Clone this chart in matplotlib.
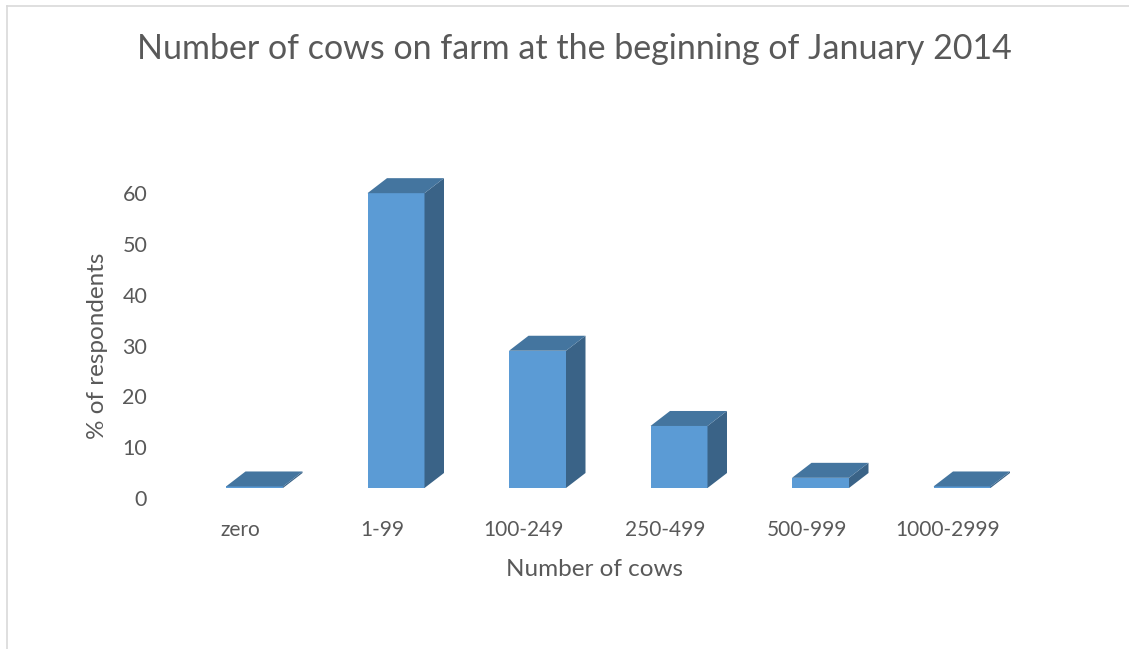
import matplotlib
matplotlib.use("Agg")
import matplotlib.pyplot as plt
from matplotlib.patches import Polygon
from matplotlib.lines import Line2D

categories = ["zero", "1-99", "100-249", "250-499", "500-999", "1000-2999"]
values = [0.3, 58, 27, 12.2, 2.0, 0.3]
yticks = [0, 10, 20, 30, 40, 50, 60]

title = "Number of cows on farm at the beginning of January 2014"
xlabel = "Number of cows"
ylabel = "% of respondents"

W, H = 1129, 649
DPI = 100
plt.rcParams['font.family'] = ['Lato', 'DejaVu Sans']
TXT = '#595959'
FRONT = '#5B9BD5'
TOP = '#44759F'
SIDE = '#3A6387'

fig = plt.figure(figsize=(W / DPI, H / DPI), dpi=DPI)
fig.patch.set_facecolor('white')

# axes placement in pixels
ax_l, ax_r = 150, 1050
ax_t, ax_b = 170, 520
ax = fig.add_axes([ax_l / W, 1 - ax_b / H, (ax_r - ax_l) / W, (ax_b - ax_t) / H])

px_per_cat = 141.5
first_center = 254.5
px_per_unit = (498 - 193) / 60.0
zero_px = 498
xlim = (-(first_center - ax_l) / px_per_cat, (ax_r - first_center) / px_per_cat)
ylim = (-(ax_b - zero_px) / px_per_unit, (zero_px - ax_t) / px_per_unit)
ax.set_xlim(*xlim)
ax.set_ylim(*ylim)

bar_w = 57 / px_per_cat
dx = 19.5 / px_per_cat
dy = 15 / px_per_unit
base = 10 / px_per_unit  # floor of the 3D bars sits above the 0 label

xs = list(range(len(categories)))
ax.bar(xs, values, width=bar_w, bottom=base, color=FRONT, edgecolor='none', zorder=3, clip_on=False)
for x, v in zip(xs, values):
    x0, x1 = x - bar_w / 2, x + bar_w / 2
    y0, y1 = base, base + v
    top = Polygon([(x0, y1), (x1, y1), (x1 + dx, y1 + dy), (x0 + dx, y1 + dy)],
                  closed=True, facecolor=TOP, edgecolor='none', zorder=4, clip_on=False)
    side = Polygon([(x1, y0), (x1, y1), (x1 + dx, y1 + dy), (x1 + dx, y0 + dy)],
                   closed=True, facecolor=SIDE, edgecolor='none', zorder=4, clip_on=False)
    ax.add_patch(side)
    ax.add_patch(top)

label_shift = -14 / px_per_cat
ax.set_xticks([x + label_shift for x in xs])
ax.set_xticklabels(categories, fontsize=15, color=TXT)
ax.set_yticks(yticks)
ax.set_yticklabels([str(t) for t in yticks], fontsize=15.5, color=TXT)
ax.tick_params(axis='both', length=0)
ax.tick_params(axis='y', pad=2)
ax.tick_params(axis='x', pad=0)
for s in ax.spines.values():
    s.set_visible(False)
ax.patch.set_alpha(0)

fig.text(594 / W, 1 - 569 / H, xlabel, ha='center', va='center', fontsize=17.5, color=TXT)
fig.text(97 / W, 1 - 346 / H, ylabel, ha='center', va='center', rotation=90, fontsize=17.5, color=TXT)
fig.text(574 / W, 1 - 49 / H, title, ha='center', va='center', fontsize=24.5, color=TXT)

# chart border (top and left visible)
fig.add_artist(Line2D([6.5 / W, 1.0], [1 - 5.5 / H, 1 - 5.5 / H], transform=fig.transFigure, color='#D9D9D9', lw=1.2))
fig.add_artist(Line2D([6.5 / W, 6.5 / W], [0, 1 - 5.5 / H], transform=fig.transFigure, color='#D9D9D9', lw=1.2))

fig.savefig('out.png', dpi=DPI)
